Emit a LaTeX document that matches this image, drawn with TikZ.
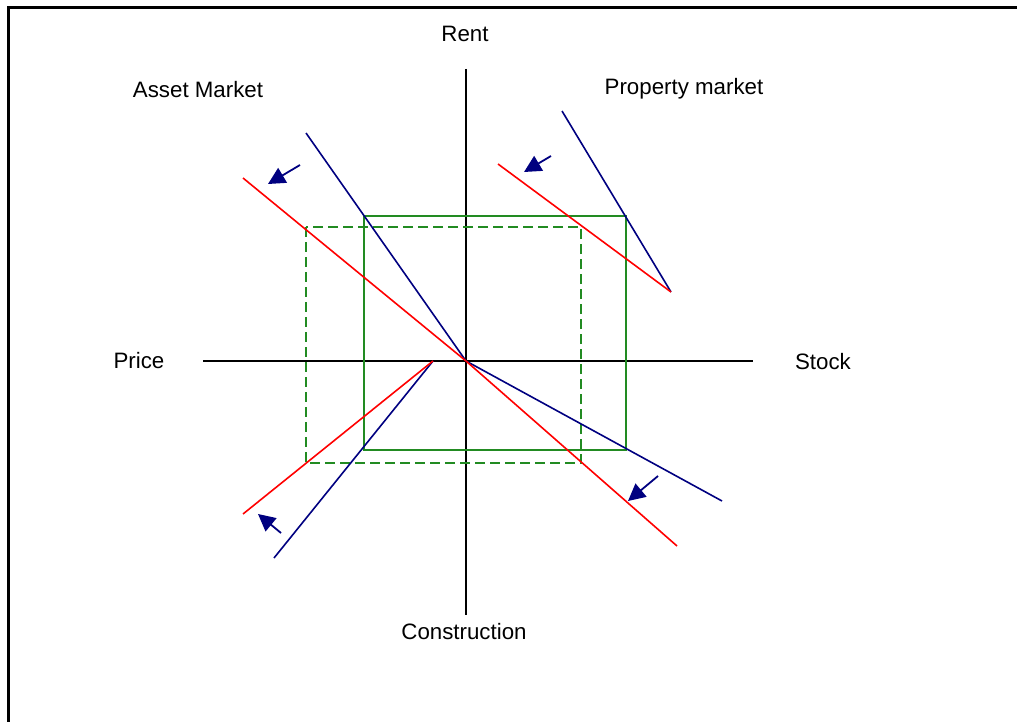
\documentclass[tikz,border=0pt]{standalone}
\usepackage{fontspec}
\setmainfont{Liberation Sans}
\usepackage{tikz}
\usetikzlibrary{arrows.meta}
\definecolor{navy}{RGB}{0,0,128}
\definecolor{framegreen}{RGB}{34,139,34}

\begin{document}
\begin{tikzpicture}[x=1pt,y=-1pt,
  lbl/.style={anchor=base,font=\fontsize{22.3}{26}\selectfont},
  curve/.style={line width=1.6pt},
  shiftarrow/.style={navy,line width=1.8pt,-{Triangle[length=17pt,width=17pt]}}]
  \useasboundingbox (0,0) rectangle (1017,722);
  \draw[line width=3pt] (8,722) -- (8,7.5) -- (1017,7.5);

  % axes
  \coordinate (O) at (466,361);
  \coordinate (xl) at (203,361);
  \coordinate (xr) at (753,361);
  \coordinate (yt) at (466,69);
  \coordinate (yb) at (466,615);
  \draw[line width=1.5pt] (xl) -- (xr);
  \draw[line width=1.5pt] (yt) -- (yb);
  \node[lbl] (rent) at (465,42) {Rent};
  \node[lbl] (stock) at (823,369) {Stock};
  \node[lbl] (price) at (139,368) {Price};
  \node[lbl] (constr) at (464,639) {Construction};
  \node[lbl] (asset) at (198,98) {Asset Market};
  \node[lbl] (prop) at (684,95) {Property market};

  % equilibrium boxes
  \coordinate (b1) at (364,216);
  \coordinate (b2) at (626,450);
  \coordinate (d1) at (306,227);
  \coordinate (d2) at (581,463);
  \draw[framegreen,line width=1.9pt] (b1) rectangle (b2);
  \draw[framegreen,line width=1.9pt,dash pattern=on 10pt off 5pt] (d1) rectangle (d2);

  % asset market
  \coordinate (a1) at (306,133);
  \coordinate (a2) at (243,178);
  \draw[navy,curve] (a1) -- (O);
  \draw[red,curve] (a2) -- (O);

  % property market
  \coordinate (p1) at (562,111);
  \coordinate (p2) at (498,164);
  \coordinate (p3) at (671,292);
  \draw[navy,curve] (p1) -- (p3);
  \draw[red,curve] (p2) -- (p3);

  % stock adjustment
  \coordinate (s1) at (722,501);
  \coordinate (s2) at (677,546);
  \draw[navy,curve] (O) -- (s1);
  \draw[red,curve] (O) -- (s2);

  % construction
  \coordinate (c0) at (433,361);
  \coordinate (c1) at (274,558);
  \coordinate (c2) at (243,514);
  \draw[navy,curve] (c0) -- (c1);
  \draw[red,curve] (c0) -- (c2);

  % shifts
  \coordinate (t1) at (300,165);
  \coordinate (h1) at (268,184);
  \coordinate (t2) at (551,156);
  \coordinate (h2) at (524,172);
  \coordinate (t3) at (658,476);
  \coordinate (h3) at (628,501);
  \coordinate (t4) at (281,533);
  \coordinate (h4) at (258,514);
  \draw[shiftarrow] (t1) -- (h1);
  \draw[shiftarrow] (t2) -- (h2);
  \draw[shiftarrow] (t3) -- (h3);
  \draw[shiftarrow] (t4) -- (h4);
\end{tikzpicture}
\end{document}
